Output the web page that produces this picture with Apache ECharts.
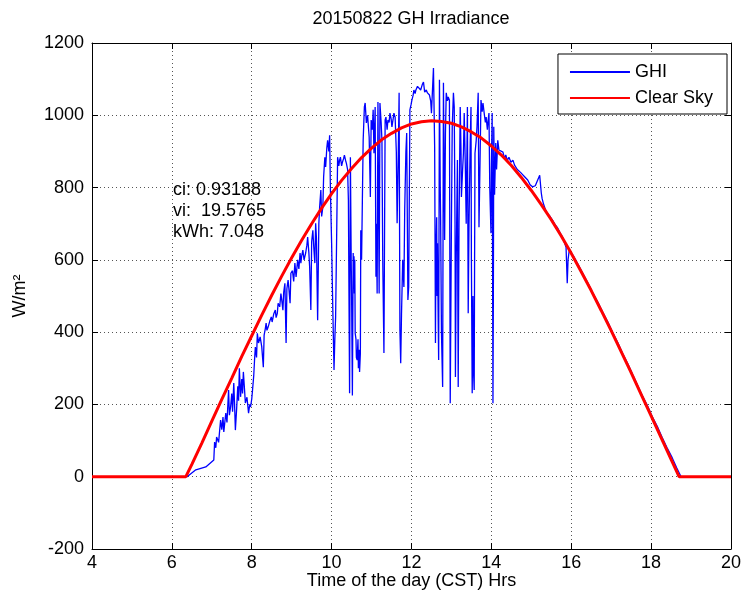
<!DOCTYPE html>
<html>
<head>
<meta charset="utf-8">
<script src="https://cdn.jsdelivr.net/npm/echarts@6/dist/echarts.min.js"></script>
<style>
html,body{margin:0;padding:0;background:#fff;}
#chart{width:744px;height:604px;}
</style>
</head>
<body>
<div id="chart"></div>
<script>
// Clear-sky model curve (hours, W/m2)
var csTime = [4.00, 6.35,
  6.50, 6.75, 7.00, 7.25, 7.50, 7.75, 8.00, 8.25, 8.50, 8.75,
  9.00, 9.25, 9.50, 9.75, 10.00, 10.25, 10.50, 10.75, 11.00, 11.25,
  11.50, 11.75, 12.00, 12.25, 12.50, 12.75, 13.00, 13.25, 13.50, 13.75,
  14.00, 14.25, 14.50, 14.75, 15.00, 15.25, 15.50, 15.75, 16.00, 16.25,
  16.50, 16.75, 17.00, 17.25, 17.50, 17.75, 18.00, 18.25, 18.50,
  18.70, 20.00];
var csValue = [0, 0,
  34, 93, 154, 214, 273, 333, 390, 447, 502, 555,
  606, 654, 700, 743, 783, 820, 853, 883, 909, 932,
  950, 965, 976, 982, 985, 983, 978, 968, 954, 937,
  915, 890, 861, 828, 792, 753, 711, 666, 618, 567,
  515, 460, 404, 346, 288, 228, 168, 108, 48,
  0, 0];

// Measured GHI (hours, W/m2) - rows of ten
var ghiTime = [
  4.00, 6.38, 6.60, 6.85, 7.05, 7.07, 7.10, 7.12, 7.17, 7.22,
  7.25, 7.28, 7.30, 7.35, 7.38, 7.42, 7.44, 7.47, 7.50, 7.52,
  7.55, 7.57, 7.59, 7.62, 7.65, 7.67, 7.69, 7.72, 7.75, 7.77,
  7.79, 7.82, 7.84, 7.88, 7.92, 7.95, 7.97, 8.00, 8.02, 8.05,
  8.07, 8.09, 8.12, 8.14, 8.17, 8.21, 8.25, 8.29, 8.31, 8.34,
  8.36, 8.38, 8.41, 8.45, 8.49, 8.51, 8.55, 8.59, 8.61, 8.64,
  8.66, 8.70, 8.73, 8.75, 8.78, 8.80, 8.83, 8.86, 8.88, 8.91,
  8.93, 8.96, 8.98, 9.02, 9.05, 9.08, 9.11, 9.15, 9.18, 9.21,
  9.23, 9.25, 9.28, 9.31, 9.35, 9.38, 9.40, 9.43, 9.45, 9.48,
  9.50, 9.53, 9.55, 9.58, 9.60, 9.62, 9.65, 9.68, 9.70, 9.73,
  9.75, 9.78, 9.80, 9.83, 9.85, 9.88, 9.90, 9.93, 9.95, 9.97,
  10.00, 10.02, 10.04, 10.06, 10.08, 10.10, 10.13, 10.15, 10.18, 10.20,
  10.22, 10.25, 10.27, 10.30, 10.32, 10.35, 10.37, 10.40, 10.42, 10.45,
  10.47, 10.49, 10.50, 10.52, 10.54, 10.55, 10.56, 10.57, 10.58, 10.59,
  10.61, 10.62, 10.64, 10.66, 10.67, 10.69, 10.70, 10.72, 10.73, 10.75,
  10.77, 10.79, 10.82, 10.84, 10.87, 10.90, 10.92, 10.94, 10.97, 10.99,
  11.02, 11.04, 11.06, 11.09, 11.11, 11.12, 11.14, 11.16, 11.19, 11.21,
  11.24, 11.26, 11.28, 11.31, 11.34, 11.36, 11.39, 11.41, 11.44, 11.46,
  11.49, 11.51, 11.54, 11.56, 11.59, 11.62, 11.64, 11.67, 11.69, 11.71,
  11.73, 11.75, 11.78, 11.81, 11.83, 11.86, 11.88, 11.91, 11.93, 11.96,
  11.99, 12.01, 12.04, 12.06, 12.09, 12.11, 12.15, 12.18, 12.20, 12.23,
  12.27, 12.30, 12.33, 12.37, 12.40, 12.43, 12.45, 12.48, 12.50, 12.55,
  12.58, 12.60, 12.61, 12.63, 12.64, 12.65, 12.67, 12.68, 12.70, 12.72,
  12.73, 12.75, 12.78, 12.80, 12.82, 12.83, 12.85, 12.87, 12.90, 12.92,
  12.95, 12.96, 12.97, 13.00, 13.02, 13.05, 13.07, 13.09, 13.10, 13.12,
  13.15, 13.16, 13.17, 13.19, 13.22, 13.24, 13.25, 13.28, 13.30, 13.32,
  13.35, 13.37, 13.40, 13.42, 13.44, 13.47, 13.49, 13.50, 13.52, 13.54,
  13.55, 13.57, 13.58, 13.59, 13.62, 13.64, 13.67, 13.69, 13.72, 13.74,
  13.77, 13.79, 13.82, 13.85, 13.87, 13.90, 13.92, 13.94, 13.96, 13.99,
  14.00, 14.02, 14.03, 14.04, 14.05, 14.06, 14.08, 14.11, 14.13, 14.16,
  14.19, 14.24, 14.29, 14.33, 14.36, 14.40, 14.44, 14.49, 14.54, 14.58,
  14.61, 14.65, 14.68, 14.73, 14.78, 14.85, 14.91, 14.97, 15.03, 15.10,
  15.16, 15.21, 15.25, 15.27, 15.30, 15.35, 15.40, 15.47, 15.53, 15.59,
  15.65, 15.72, 15.78, 15.83, 15.87, 15.90, 15.92, 15.95, 16.05, 16.17,
  16.30, 16.42, 16.54, 16.67, 16.79, 16.92, 17.04, 17.17, 17.29, 17.42,
  17.54, 17.66, 17.78, 17.91, 18.03, 18.16, 18.28, 18.40, 18.53, 18.64,
  18.75, 20.00];
var ghiValue = [
  0, 0, 19, 27, 46, 96, 80, 110, 95, 157,
  130, 165, 124, 176, 150, 240, 170, 193, 230, 180,
  259, 200, 129, 185, 250, 210, 300, 221, 270, 230,
  290, 240, 204, 220, 176, 200, 193, 215, 240, 280,
  323, 359, 330, 397, 370, 387, 360, 303, 392, 410,
  425, 405, 414, 430, 442, 428, 450, 461, 440, 452,
  480, 470, 507, 490, 461, 510, 535, 370, 520, 544,
  520, 480, 563, 570, 540, 591, 553, 600, 575, 619,
  591, 610, 627, 600, 619, 640, 663, 620, 580, 461,
  650, 682, 640, 591, 701, 660, 433, 700, 746, 793,
  720, 746, 830, 884, 857, 910, 931, 900, 945, 793,
  646, 520, 406, 295, 380, 442, 700, 884, 860, 876,
  884, 860, 870, 880, 890, 875, 867, 850, 765, 231,
  884, 600, 507, 225, 619, 520, 610, 507, 600, 397,
  380, 330, 323, 380, 300, 351, 290, 342, 682, 600,
  765, 931, 1023, 1034, 979, 1000, 995, 940, 774, 987,
  960, 1015, 895, 1023, 553, 700, 507, 1037, 507, 1034,
  980, 931, 600, 342, 987, 995, 960, 987, 980, 1006,
  990, 968, 990, 1006, 995, 900, 701, 900, 1062, 406,
  314, 450, 600, 525, 738, 900, 951, 489, 525, 1015,
  1030, 1042, 1055, 1070, 1060, 1070, 1080, 1084, 1075, 1070,
  1085, 1092, 1064, 1070, 1062, 1060, 1056, 1040, 1006, 1131,
  912, 370, 600, 718, 500, 646, 420, 323, 1098, 800,
  710, 400, 248, 1090, 800, 655, 950, 1062, 1040, 1051,
  1042, 600, 203, 700, 968, 1062, 1023, 700, 276, 600,
  876, 500, 248, 700, 1023, 900, 774, 850, 895, 1006,
  848, 700, 1023, 452, 700, 923, 1023, 600, 231, 500,
  300, 240, 600, 895, 930, 968, 1062, 690, 900, 1042,
  1010, 1034, 1006, 980, 995, 960, 987, 1006, 800, 674,
  850, 1006, 600, 203, 500, 968, 780, 923, 850, 931,
  904, 905, 898, 880, 890, 875, 884, 870, 876, 862,
  857, 850, 854, 842, 840, 828, 821, 808, 802, 805,
  821, 834, 785, 770, 757, 740, 729, 720, 710, 698,
  690, 675, 663, 648, 635, 535, 600, 627, 612, 588,
  560, 535, 508, 482, 455, 427, 398, 370, 340, 312,
  282, 253, 224, 196, 166, 138, 108, 80, 52, 25,
  0, 0];

var xTicks = [4, 6, 8, 10, 12, 14, 16, 18, 20];
var yTicks = [-200, 0, 200, 400, 600, 800, 1000, 1200];

var titleText = '20150822 GH Irradiance';
var xName = 'Time of the day (CST) Hrs';
var yName = 'W/m\u00B2';
var annotation = ['ci: 0.93188', 'vi:  19.5765', 'kWh: 7.048'];

function pairs(t, v) {
  var out = [];
  for (var i = 0; i < t.length && i < v.length; i++) out.push([t[i], v[i]]);
  return out;
}

var FONT = '"Liberation Sans", Arial, Helvetica, sans-serif';
var FS = 18;
var chart = echarts.init(document.getElementById('chart'), null, {renderer: 'canvas'});

var axisCommon = {
  axisLine: {show: true, onZero: false, lineStyle: {color: '#000', width: 1}},
  axisTick: {show: true, inside: true, length: 6, lineStyle: {color: '#000'}},
};

chart.setOption({
  animation: false,
  backgroundColor: '#fff',
  textStyle: {fontFamily: FONT},
  title: {
    text: titleText,
    left: 406, top: 5, textAlign: 'center',
    textStyle: {fontSize: FS, fontWeight: 'normal', color: '#000', fontFamily: FONT}
  },
  grid: {left: 92, right: 7, top: 43, bottom: 55, containLabel: false},
  legend: {
    data: ['GHI', 'Clear Sky'],
    orient: 'vertical',
    right: 17, top: 54,
    backgroundColor: '#fff',
    borderColor: '#000', borderWidth: 1,
    padding: [9, 14, 7, 12],
    itemGap: 8,
    itemWidth: 60, itemHeight: 2,
    icon: 'rect',
    textStyle: {fontSize: FS, color: '#000', fontFamily: FONT}
  },
  xAxis: [
    Object.assign({
      type: 'value', min: xTicks[0], max: xTicks[xTicks.length - 1], interval: 2,
      position: 'bottom',
      axisLabel: {color: '#000', fontSize: FS, margin: 5, fontFamily: FONT},
      splitLine: {show: true, lineStyle: {color: '#555', width: 1, type: [1, 3]}},
      name: xName, nameLocation: 'middle', nameGap: 23, nameMoveOverlap: false,
      nameTextStyle: {color: '#000', fontSize: FS, fontFamily: FONT}
    }, axisCommon),
    Object.assign({
      type: 'value', min: xTicks[0], max: xTicks[xTicks.length - 1], interval: 2,
      position: 'top',
      axisLabel: {show: false},
      splitLine: {show: false}
    }, axisCommon)
  ],
  yAxis: [
    Object.assign({
      type: 'value', min: yTicks[0], max: yTicks[yTicks.length - 1], interval: 200,
      position: 'left',
      axisLabel: {color: '#000', fontSize: FS, margin: 8, fontFamily: FONT,
        formatter: function (v) { return String(v); }},
      splitLine: {show: true, lineStyle: {color: '#555', width: 1, type: [1, 3]}},
      name: yName, nameLocation: 'middle', nameGap: 63, nameRotate: 90, nameMoveOverlap: false,
      nameTextStyle: {color: '#000', fontSize: FS, fontFamily: FONT}
    }, axisCommon),
    Object.assign({
      type: 'value', min: yTicks[0], max: yTicks[yTicks.length - 1], interval: 200,
      position: 'right',
      axisLabel: {show: false},
      splitLine: {show: false}
    }, axisCommon)
  ],
  graphic: [{
    type: 'text', left: 173, top: 180, z: 10,
    style: {
      text: annotation.join('\n'),
      font: FS + 'px ' + FONT,
      fill: '#000',
      lineHeight: 21
    }
  }],
  series: [
    {
      name: 'GHI', type: 'line', xAxisIndex: 0, yAxisIndex: 0,
      data: pairs(ghiTime, ghiValue),
      showSymbol: false, symbol: 'none',
      lineStyle: {color: '#0000ff', width: 1.3},
      itemStyle: {color: '#0000ff'},
      z: 2
    },
    {
      name: 'Clear Sky', type: 'line', xAxisIndex: 0, yAxisIndex: 0,
      data: pairs(csTime, csValue),
      showSymbol: false, symbol: 'none',
      lineStyle: {color: '#ff0000', width: 3},
      itemStyle: {color: '#ff0000'},
      z: 3
    }
  ]
});
</script>
</body>
</html>
